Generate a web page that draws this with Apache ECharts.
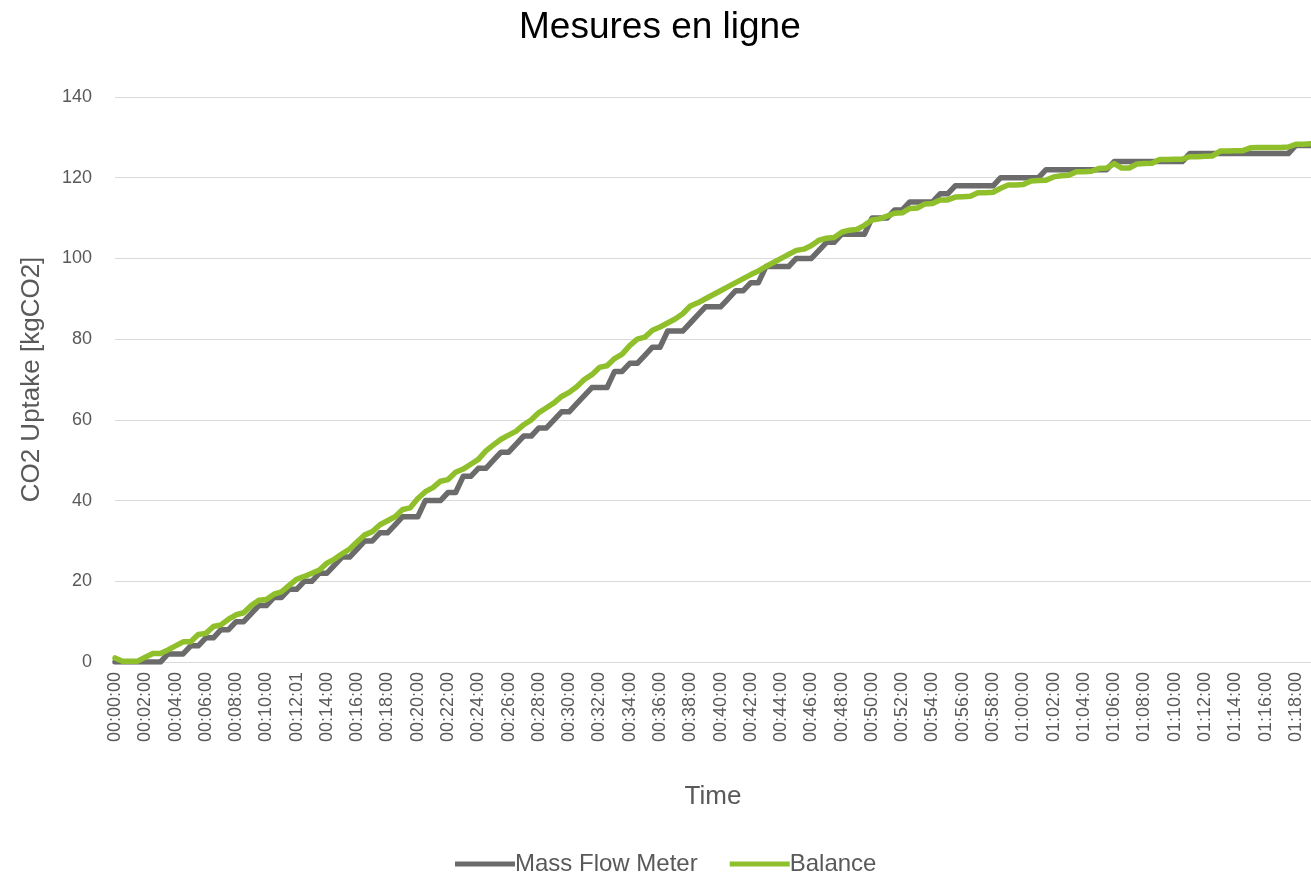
<!DOCTYPE html>
<html>
<head>
<meta charset="utf-8">
<script src="https://cdn.jsdelivr.net/npm/echarts@6/dist/echarts.min.js"></script>
<style>
  html, body { margin: 0; padding: 0; background: #fff; }
  #chart { width: 1311px; height: 874px; }
</style>
</head>
<body>
<div id="chart"></div>
<script>
// time stamps, one every 30 s
var times = [
  "00:00:00","00:00:30","00:01:00","00:01:30","00:02:00","00:02:30","00:03:00","00:03:30","00:04:00","00:04:30",
  "00:05:00","00:05:30","00:06:00","00:06:30","00:07:00","00:07:30","00:08:00","00:08:30","00:09:00","00:09:30",
  "00:10:00","00:10:30","00:11:00","00:11:30","00:12:01","00:12:30","00:13:00","00:13:30","00:14:00","00:14:30",
  "00:15:00","00:15:30","00:16:00","00:16:30","00:17:00","00:17:30","00:18:00","00:18:30","00:19:00","00:19:30",
  "00:20:00","00:20:30","00:21:00","00:21:30","00:22:00","00:22:30","00:23:00","00:23:30","00:24:00","00:24:30",
  "00:25:00","00:25:30","00:26:00","00:26:30","00:27:00","00:27:30","00:28:00","00:28:30","00:29:00","00:29:30",
  "00:30:00","00:30:30","00:31:00","00:31:30","00:32:00","00:32:30","00:33:00","00:33:30","00:34:00","00:34:30",
  "00:35:00","00:35:30","00:36:00","00:36:30","00:37:00","00:37:30","00:38:00","00:38:30","00:39:00","00:39:30",
  "00:40:00","00:40:30","00:41:00","00:41:30","00:42:00","00:42:30","00:43:00","00:43:30","00:44:00","00:44:30",
  "00:45:00","00:45:30","00:46:00","00:46:30","00:47:00","00:47:30","00:48:00","00:48:30","00:49:00","00:49:30",
  "00:50:00","00:50:30","00:51:00","00:51:30","00:52:00","00:52:30","00:53:00","00:53:30","00:54:00","00:54:30",
  "00:55:00","00:55:30","00:56:00","00:56:30","00:57:00","00:57:30","00:58:00","00:58:30","00:59:00","00:59:30",
  "01:00:00","01:00:30","01:01:00","01:01:30","01:02:00","01:02:30","01:03:00","01:03:30","01:04:00","01:04:30",
  "01:05:00","01:05:30","01:06:00","01:06:30","01:07:00","01:07:30","01:08:00","01:08:30","01:09:00","01:09:30",
  "01:10:00","01:10:30","01:11:00","01:11:30","01:12:00","01:12:30","01:13:00","01:13:30","01:14:00","01:14:30",
  "01:15:00","01:15:30","01:16:00","01:16:30","01:17:00","01:17:30","01:18:00","01:18:30","01:19:00"
];

// CO2 uptake [kgCO2]
var massFlowMeter = [
  0,0,0,0,0,0,0,2,2,2,
  4,4,6,6,8,8,10,10,12,14,
  14,16,16,18,18,20,20,22,22,24,
  26,26,28,30,30,32,32,34,36,36,
  36,40,40,40,42,42,46,46,48,48,
  50,52,52,54,56,56,58,58,60,62,
  62,64,66,68,68,68,72,72,74,74,
  76,78,78,82,82,82,84,86,88,88,
  88,90,92,92,94,94,98,98,98,98,
  100,100,100,102,104,104,106,106,106,106,
  110,110,110,112,112,114,114,114,114,116,
  116,118,118,118,118,118,118,120,120,120,
  120,120,120,122,122,122,122,122,122,122,
  122,122,124,124,124,124,124,124,124,124,
  124,124,126,126,126,126,126,126,126,126,
  126,126,126,126,126,126,128,128,128
];

var balance = [
  1.0,0.2,0.2,0.2,1.2,2.1,2.1,3.0,4.0,5.0,
  5.0,6.8,7.1,8.8,9.2,10.6,11.7,12.2,14.0,15.3,
  15.5,16.8,17.4,19.0,20.5,21.2,22.0,22.8,24.5,25.5,
  26.8,28.0,29.8,31.5,32.3,34.0,35.0,36.0,37.8,38.2,
  40.5,42.2,43.2,44.8,45.2,47.0,47.8,49.0,50.2,52.3,
  53.8,55.2,56.2,57.2,58.8,60.0,61.8,63.0,64.2,65.8,
  66.8,68.2,70.0,71.2,73.0,73.4,75.2,76.3,78.4,80.0,
  80.5,82.2,83.0,84.0,85.0,86.3,88.2,89.0,90.0,91.0,
  92.0,93.0,94.0,95.0,96.0,96.9,98.0,99.0,100.0,101.0,
  102.0,102.3,103.2,104.5,105.0,105.2,106.5,107.0,107.2,108.2,
  109.5,109.8,110.5,111.2,111.3,112.4,112.5,113.5,113.6,114.5,
  114.5,115.2,115.3,115.4,116.3,116.3,116.4,117.4,118.2,118.2,
  118.3,119.2,119.3,119.4,120.2,120.5,120.6,121.5,121.5,121.6,
  122.3,122.4,123.5,122.4,122.4,123.4,123.5,123.6,124.5,124.5,
  124.6,124.6,125.2,125.2,125.3,125.4,126.6,126.6,126.7,126.7,
  127.4,127.5,127.5,127.5,127.5,127.6,128.3,128.3,128.4
];

var seriesNames = ["Mass Flow Meter", "Balance"];
var colors = ["#6b6b6b", "#8fbf2b"];

var font = "'Liberation Sans', Arial, sans-serif";
var chart = echarts.init(document.getElementById('chart'));

chart.setOption({
  animation: false,
  color: colors,
  title: {
    text: "Mesures en ligne",
    left: 514,
    top: 4,
    textStyle: { fontFamily: font, fontSize: 37, fontWeight: 'normal', color: '#000' }
  },
  legend: {
    top: 847,
    left: 450,
    icon: 'rect',
    itemWidth: 60,
    itemHeight: 5,
    itemGap: 32,
    data: seriesNames,
    textStyle: { fontFamily: font, fontSize: 24, color: '#595959', padding: [0, 0, 0, -5] }
  },
  grid: { left: 115, right: 0, top: 97, bottom: 212 },
  xAxis: {
    type: 'category',
    data: times,
    boundaryGap: false,
    name: 'Time',
    nameLocation: 'middle',
    nameGap: 122,
    nameTextStyle: { fontFamily: font, fontSize: 26, color: '#595959' },
    axisLine: { lineStyle: { color: '#d9d9d9', width: 1 } },
    axisTick: { show: false },
    axisLabel: { interval: 3, rotate: 90, margin: 10, fontFamily: font, fontSize: 18, color: '#595959' },
    splitLine: { show: false }
  },
  yAxis: {
    type: 'value',
    min: 0,
    max: 140,
    interval: 20,
    name: 'CO2 Uptake [kgCO2]',
    nameLocation: 'middle',
    nameGap: 70,
    nameTextStyle: { fontFamily: font, fontSize: 26, color: '#595959' },
    axisLine: { show: false },
    axisTick: { show: false },
    axisLabel: { margin: 23, fontFamily: font, fontSize: 18, color: '#595959' },
    splitLine: { lineStyle: { color: '#d9d9d9', width: 1 } }
  },
  series: [
    {
      name: seriesNames[0],
      type: 'line',
      data: massFlowMeter,
      showSymbol: false,
      lineStyle: { width: 5.5, color: colors[0], join: 'round', cap: 'round' }
    },
    {
      name: seriesNames[1],
      type: 'line',
      data: balance,
      showSymbol: false,
      lineStyle: { width: 5.5, color: colors[1], join: 'round', cap: 'round' }
    }
  ]
});
</script>
</body>
</html>
